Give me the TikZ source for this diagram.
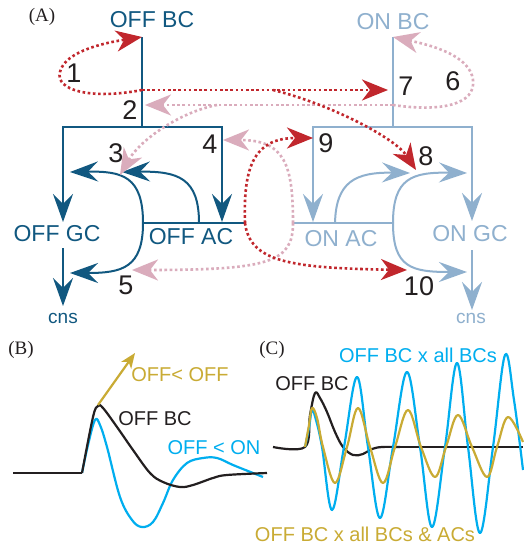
\documentclass[tikz,border=0pt]{standalone}
\usepackage{fontspec}
\setmainfont{Liberation Sans}
\newfontfamily\serifA{Liberation Serif}
\usetikzlibrary{arrows.meta}
\definecolor{offc}{RGB}{17,88,128}
\definecolor{onc}{RGB}{143,176,206}
\definecolor{redc}{RGB}{193,39,45}
\definecolor{pinkc}{RGB}{218,172,188}
\definecolor{numc}{RGB}{35,31,32}
\definecolor{cyanc}{RGB}{0,174,239}
\definecolor{goldc}{RGB}{201,171,52}
\begin{document}
\begin{tikzpicture}[x=1pt,y=-1pt,
  lbl/.style={inner sep=0pt, font=\fontsize{23}{26}\selectfont},
  cnslbl/.style={inner sep=0pt, font=\fontsize{19}{22}\selectfont},
  num/.style={inner sep=0pt, text=numc, font=\fontsize{27}{30}\selectfont},
  sm/.style={inner sep=0pt, font=\fontsize{20}{24}\selectfont},
  panel/.style={inner sep=0pt, text=numc, font=\serifA\fontsize{19}{22}\selectfont},
  offl/.style={draw=offc, line width=2pt},
  onl/.style={draw=onc, line width=2pt},
  bigtip/.style={-{Stealth[length=28pt,width=20pt,inset=10pt]}},
  dottip/.style={-{Stealth[length=26pt,width=21pt,inset=8pt]}},
  dotr/.style={draw=redc, line width=2.6pt, dash pattern=on 2.6pt off 2.6pt},
  dotp/.style={draw=pinkc, line width=2.6pt, dash pattern=on 2.6pt off 2.6pt},
  wave/.style={line width=2.2pt, line join=round}
]
\fill[white] (0,0) rectangle (523,546);
\useasboundingbox (0,0) rectangle (523,546);

% ---------- Panel A labels ----------
\node[panel] (pa) at (42,17) {(A)};
\node[lbl, text=offc] (offbc) at (152,20) {OFF BC};
\node[lbl, text=onc] (onbc) at (393,22) {ON BC};
\node[lbl, text=offc] (offgc) at (57,234) {OFF GC};
\node[lbl, text=offc] (offac) at (191,237) {OFF AC};
\node[lbl, text=onc] (onac) at (341,239) {ON AC};
\node[lbl, text=onc] (ongc) at (470,234) {ON GC};
\node[cnslbl, text=offc] (cnsoff) at (63,318) {cns};
\node[cnslbl, text=onc] (cnson) at (471,318) {cns};

% ---------- coordinates ----------
\coordinate (offtop) at (142,37);
\coordinate (offbar) at (142,127);
\coordinate (offgcin) at (63,222);
\coordinate (offacin) at (222,222);
\coordinate (offacL) at (143,223);
\coordinate (offacM) at (199,223);
\coordinate (offacR) at (245,223);
\coordinate (offgcT) at (70,172);
\coordinate (offgcB) at (70,273);
\coordinate (offbcT) at (122,172);
\coordinate (offgcout) at (63,248);
\coordinate (cnsoffin) at (63,306);

\coordinate (ontop) at (393,37);
\coordinate (onbar) at (393,127);
\coordinate (onacin) at (313,222);
\coordinate (ongcin) at (472,221);
\coordinate (onacL) at (293,223);
\coordinate (onacM) at (335,223);
\coordinate (onacR) at (393,223);
\coordinate (onbcT) at (410,173);
\coordinate (ongcT) at (467,173);
\coordinate (ongcB) at (467,272);
\coordinate (ongcout) at (472,250);
\coordinate (cnsonin) at (472,310);

% ---------- OFF pathway ----------
\draw[offl] (offtop) -- (offbar);
\draw[offl,bigtip] (offbar) -| (offgcin);
\draw[offl,bigtip] (offbar) -| (offacin);
\draw[offl] (offacL) -- (offacR);
\draw[offl,bigtip] (offacL) .. controls (143,176) and (122,171) .. (offgcT);
\draw[offl,bigtip] (offacL) .. controls (143,268) and (122,273) .. (offgcB);
\draw[offl,bigtip] (offacM) .. controls (199,178) and (178,171) .. (offbcT);
\draw[offl,bigtip] (offgcout) -- (cnsoffin);

% ---------- ON pathway ----------
\draw[onl] (ontop) -- (onbar);
\draw[onl,bigtip] (onbar) -| (onacin);
\draw[onl,bigtip] (onbar) -| (ongcin);
\draw[onl] (onacL) -- (onacR);
\draw[onl,bigtip] (onacM) .. controls (336,182) and (355,172) .. (onbcT);
\draw[onl,bigtip] (onacR) .. controls (393,178) and (412,172) .. (ongcT);
\draw[onl,bigtip] (onacR) .. controls (393,268) and (412,272) .. (ongcB);
\draw[onl,bigtip] (ongcout) -- (cnsonin);

% ---------- pink dotted (ON influences) ----------
\coordinate (p6s) at (393,105);
\coordinate (p2e) at (145,105);
\coordinate (p3s) at (217,105);
\coordinate (p3e) at (120,175);
\coordinate (p4e) at (223,140);
\coordinate (p5e) at (132,270);
\draw[dotp,dottip] (p6s) .. controls (440,112) and (476,105) .. (473,80) .. controls (470,55) and (430,45) .. (ontop);
\draw[dotp,dottip] (p6s) -- (p2e);
\draw[dotp,dottip] (p3s) .. controls (180,112) and (140,140) .. (p3e);
\draw[dotp,dottip] (onacL) .. controls (293,165) and (285,140) .. (p4e);
\draw[dotp,dottip] (onacL) .. controls (293,262) and (270,270) .. (p5e);

% ---------- red dotted (OFF influences) ----------
\coordinate (r1s) at (142,90);
\coordinate (r7e) at (388,90);
\coordinate (r8s) at (273,90);
\coordinate (r8e) at (416,170);
\coordinate (r9e) at (313,138);
\coordinate (r10e) at (407,270);
\draw[dotr,dottip] (r1s) .. controls (90,100) and (55,90) .. (60,72) .. controls (65,50) and (110,42) .. (offtop);
\draw[dotr,dottip] (r1s) -- (r7e);
\draw[dotr,dottip] (r8s) .. controls (330,104) and (395,138) .. (r8e);
\draw[dotr,dottip] (offacR) .. controls (243,165) and (255,138) .. (r9e);
\draw[dotr,dottip] (offacR) .. controls (250,262) and (290,268) .. (r10e);

% ---------- numbers ----------
\node[num] (n1) at (74,73) {1};
\node[num] (n2) at (130,110) {2};
\node[num] (n3) at (116,153) {3};
\node[num] (n4) at (210,144) {4};
\node[num] (n5) at (126,285) {5};
\node[num] (n6) at (453,81) {6};
\node[num] (n7) at (406,86) {7};
\node[num] (n8) at (426,156) {8};
\node[num] (n9) at (326,143) {9};
\node[num] (n10) at (419,286) {10};

% ---------- Panel B ----------
\node[panel] (pb) at (21,350) {(B)};
\draw[wave, cyanc] plot[smooth, tension=0.6] coordinates {(82,473) (88,445) (95,420) (100,425) (107,447) (120,497) (132,520) (142,527) (153,522) (163,503) (173,480) (187,463) (203,458) (217,458) (233,465) (253,473) (263,477)};
\draw[wave, numc] (13,473) -- (82,473);
\draw[wave, numc] plot[smooth, tension=0.6] coordinates {(82,473) (93,417) (98,406) (103,408) (117,427) (133,450) (150,473) (163,482) (180,487) (193,485) (213,478) (227,475) (267,473)};
\coordinate (gs) at (98,405);
\coordinate (ge) at (135,353);
\draw[goldc, line width=2.2pt, -{Stealth[length=15pt,width=12pt,inset=4pt]}] (gs) -- (ge);
\node[sm, text=goldc] (loo) at (180,375) {OFF< OFF};
\node[sm, text=numc] (lbcb) at (155,419) {OFF BC};
\node[sm, text=cyanc] (lon) at (214,448) {OFF < ON};

% ---------- Panel C ----------
\node[panel] (pc) at (272,350) {(C)};
\draw[wave, numc] plot[smooth, tension=0.6] coordinates {(273,447) (305,447) (310,415) (315,393) (320,398) (327,412) (335,432) (343,447) (353,455) (363,454) (372,449) (382,447) (400,447)};
\draw[wave, numc] (400,447) -- (523,447);
\draw[wave, cyanc] plot[smooth, tension=0.6] coordinates {(305,447) (309,428) (312,410) (316,420) (322,447) (332,510) (344,447) (357,377) (368,447) (380,518) (393,447) (407,372) (420,447) (432,527) (445,447) (457,363) (468,447) (480,533) (493,447) (505,355) (514,400) (523,470)};
\draw[wave, goldc] plot[smooth, tension=0.6] coordinates {(305,447) (309,425) (312,408) (317,418) (323,447) (335,483) (347,447) (358,408) (370,447) (383,483) (395,447) (408,410) (421,447) (435,477) (446,447) (458,415) (472,447) (487,477) (497,447) (508,417) (523,442)};
\node[sm, text=numc] (lbcc) at (312,384) {OFF BC};
\node[sm, text=cyanc] (lall) at (418,355) {OFF BC x all BCs};
\node[sm, text=goldc] (lallac) at (365,534) {OFF BC x all BCs \& ACs};
\end{tikzpicture}
\end{document}
